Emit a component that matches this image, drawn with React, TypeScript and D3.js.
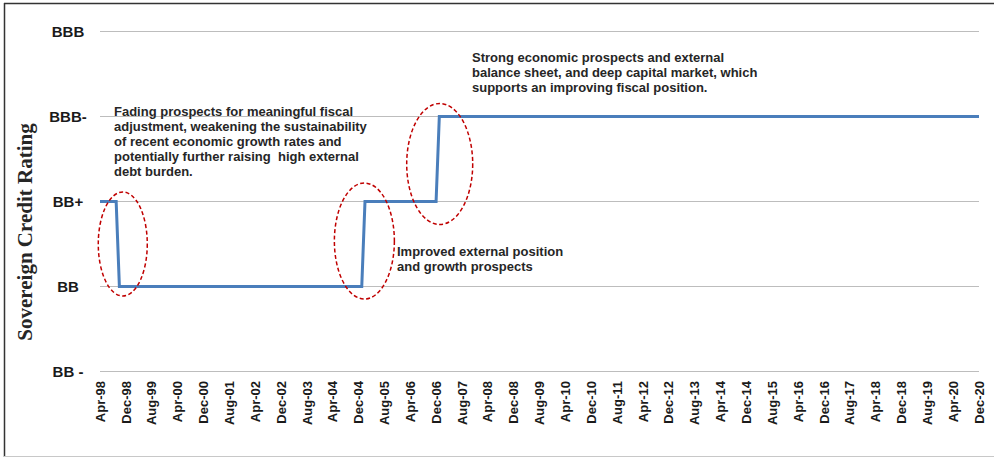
import React from "react";
import * as d3 from "d3";

// ---- data ----
const tickLabels = [
  "Apr-98","Dec-98","Aug-99","Apr-00","Dec-00","Aug-01","Apr-02","Dec-02","Aug-03","Apr-04",
  "Dec-04","Aug-05","Apr-06","Dec-06","Aug-07","Apr-08","Dec-08","Aug-09","Apr-10","Dec-10",
  "Aug-11","Apr-12","Dec-12","Aug-13","Apr-14","Dec-14","Aug-15","Apr-16","Dec-16","Aug-17",
  "Apr-18","Dec-18","Aug-19","Apr-20","Dec-20",
];
const ratingScale = ["BB -", "BB", "BB+", "BBB-", "BBB"];
const ratingDates = ["Apr-98", "Sep-98", "Oct-98", "Jan-05", "Feb-05", "Dec-06", "Jan-07", "Dec-20"];
const ratingValues = ["BB+", "BB+", "BB", "BB", "BB+", "BB+", "BBB-", "BBB-"];

const annotations = [
  {
    lines: [
      "Fading prospects for meaningful fiscal",
      "adjustment, weakening the sustainability",
      "of recent economic growth rates and",
      "potentially further raising  high external",
      "debt burden.",
    ],
    x: 114, y: 115.5,
  },
  {
    lines: [
      "Strong economic prospects and external",
      "balance sheet, and deep capital market, which",
      "supports an improving fiscal position.",
    ],
    x: 472, y: 62,
  },
  {
    lines: ["Improved external position", "and growth prospects"],
    x: 397, y: 256,
  },
];

const highlights = [
  { from: "Sep-98", to: "Oct-98", dx: 5, dy: 0, rx: 24.5, ry: 52 },
  { from: "Jan-05", to: "Feb-05", dx: 1, dy: -3, rx: 30, ry: 58 },
  { from: "Dec-06", to: "Jan-07", dx: 2, dy: 5, rx: 33, ry: 60.5 },
];

const MONTHS = ["Jan","Feb","Mar","Apr","May","Jun","Jul","Aug","Sep","Oct","Nov","Dec"];
function monthIndex(s: string): number {
  const [m, y] = s.split("-");
  const yy = +y;
  const year = yy > 50 ? 1900 + yy : 2000 + yy;
  return year * 12 + MONTHS.indexOf(m);
}

export default function App() {
  const W = 994, H = 458;
  const left = 100, right = 979;
  const x = d3
    .scaleLinear()
    .domain([monthIndex(tickLabels[0]), monthIndex(tickLabels[tickLabels.length - 1])])
    .range([left, right]);
  const y = d3.scalePoint<string>().domain(ratingScale).range([371.5, 31.5]);

  const pts: [number, number][] = ratingDates.map((d, i) => [
    x(monthIndex(d)),
    y(ratingValues[i]) as number,
  ]);
  const line = d3.line().curve(d3.curveLinear)(pts) || "";

  const font = "'Liberation Sans', Arial, sans-serif";

  return (
    <svg
      width={W}
      height={H}
      style={{ position: "absolute", left: 0, top: 0, background: "#fff" }}
    >
      {/* frame */}
      <line x1={4} x2={W} y1={3.5} y2={3.5} stroke="#333" strokeWidth={1.5} />
      <line x1={4.5} x2={4.5} y1={3} y2={457} stroke="#333" strokeWidth={1.5} />
      <line x1={4} x2={W} y1={456.5} y2={456.5} stroke="#c8c8c8" strokeWidth={1} />

      {/* gridlines + y labels */}
      {ratingScale.map((r) => (
        <g key={r}>
          <line x1={left} x2={right} y1={y(r)} y2={y(r)} stroke="#bdbdbd" strokeWidth={1} />
          <text
            x={68}
            y={(y(r) as number) + 0.5}
            dy="0.36em"
            textAnchor="middle"
            fontFamily={font}
            fontWeight="bold"
            fontSize={15}
            fill="#1a1a1a"
          >
            {r}
          </text>
        </g>
      ))}

      {/* x labels */}
      {tickLabels.map((t) => (
        <text
          key={t}
          transform={`translate(${x(monthIndex(t))},381) rotate(-90)`}
          textAnchor="end"
          dy="0.36em"
          fontFamily={font}
          fontWeight="bold"
          fontSize={13}
          fill="#1a1a1a"
        >
          {t}
        </text>
      ))}

      {/* y title */}
      <text
        transform="translate(32,232) rotate(-90)"
        textAnchor="middle"
        fontFamily="'Liberation Serif', 'Times New Roman', serif"
        fontWeight="bold"
        fontSize={21}
        fill="#262626"
      >
        Sovereign Credit Rating
      </text>

      {/* rating line */}
      <path d={line} fill="none" stroke="#4a7ebb" strokeWidth={3} strokeLinejoin="miter" />

      {/* highlight ellipses */}
      {highlights.map((h, i) => {
        const i0 = ratingDates.indexOf(h.from);
        const i1 = ratingDates.indexOf(h.to);
        const cx = (x(monthIndex(h.from)) + x(monthIndex(h.to))) / 2 + h.dx;
        const cy = ((y(ratingValues[i0]) as number) + (y(ratingValues[i1]) as number)) / 2 + h.dy;
        return (
          <ellipse
            key={i}
            cx={cx}
            cy={cy}
            rx={h.rx}
            ry={h.ry}
            fill="none"
            stroke="#c00000"
            strokeWidth={1.5}
            strokeDasharray="4 2.5"
          />
        );
      })}

      {/* annotations */}
      {annotations.map((a, i) => (
        <text
          key={i}
          x={a.x}
          y={a.y}
          fontFamily={font}
          fontWeight="bold"
          fontSize={13}
          fill="#262626"
          style={{ whiteSpace: "pre" }}
        >
          {a.lines.map((l, j) => (
            <tspan key={j} x={a.x} y={a.y + j * 15}>
              {l}
            </tspan>
          ))}
        </text>
      ))}
    </svg>
  );
}
